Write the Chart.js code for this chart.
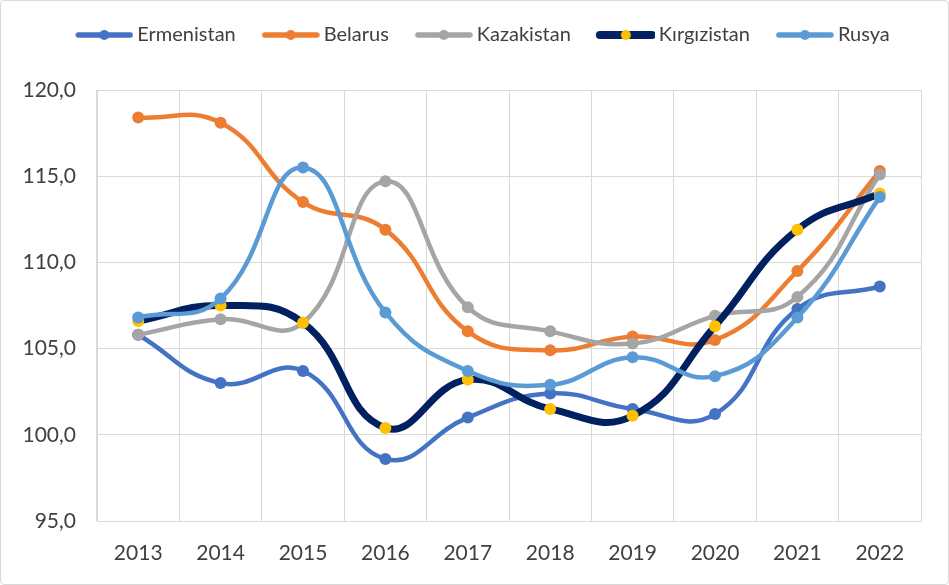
<!DOCTYPE html>
<html lang="tr">
  <head>
    <meta charset="UTF-8" />
    <title>Ülkeler</title>
    <script src="https://cdn.jsdelivr.net/npm/chart.js"></script>
    <style>
      html, body { margin: 0; padding: 0; background: #fff; }
      .box { position: absolute; left: 0; top: 0; width: 947px; height: 583px; border: 1px solid #d9d9d9; border-radius: 4px; }
      canvas { position: absolute; left: 0; top: 0; }
    </style>
  </head>
  <body>
    <div class="box"></div>
    <canvas id="chart" width="949" height="585"></canvas>

    <script>
      const years = ['2013', '2014', '2015', '2016', '2017', '2018', '2019', '2020', '2021', '2022'];

      const ermenistan = [105.8, 103.0, 103.7, 98.6, 101.0, 102.4, 101.5, 101.2, 107.3, 108.6];
      const belarus    = [118.4, 118.1, 113.5, 111.9, 106.0, 104.9, 105.7, 105.5, 109.5, 115.3];
      const kazakistan = [105.8, 106.7, 106.5, 114.7, 107.4, 106.0, 105.3, 106.9, 108.0, 115.1];
      const kirgizistan = [106.6, 107.5, 106.5, 100.4, 103.2, 101.5, 101.1, 106.3, 111.9, 114.0];
      const rusya      = [106.8, 107.9, 115.5, 107.1, 103.7, 102.9, 104.5, 103.4, 106.8, 113.8];

      const font = 'Lato, "Open Sans", sans-serif';
      const textColor = '#404040';
      const ICON_W = 70;   // legend box width given to chart.js

      // legend marker: line with a dot in the middle, sitting at the right of the box
      function legendIcon(lineColor, dotColor, lw) {
        const c = document.createElement('canvas');
        c.width = 82; c.height = 14;
        const g = c.getContext('2d');
        g.strokeStyle = lineColor;
        g.lineWidth = lw;
        g.lineCap = 'round';
        g.beginPath();
        g.moveTo(27, 7); g.lineTo(79, 7);
        g.stroke();
        g.fillStyle = dotColor;
        g.beginPath();
        g.arc(53, 7, 5, 0, Math.PI * 2);
        g.fill();
        return c;
      }

      function series(label, data, color, dot, width, order) {
        return {
          label: label,
          data: data,
          borderColor: color,
          backgroundColor: dot,
          pointBackgroundColor: dot,
          pointBorderColor: dot,
          pointRadius: 6,
          pointHoverRadius: 6,
          pointBorderWidth: 0,
          borderWidth: width,
          tension: 0.45,
          order: order,
          legendIcon: legendIcon(color, dot, width + 1)
        };
      }

      // fixed legend height, and nudge it a bit to the right
      const legendTweak = {
        id: 'legendTweak',
        beforeInit(chart) {
          const lg = chart.legend;
          const fit = lg.fit;
          lg.fit = function () {
            fit.call(this);
            this.height = 73;
          };
          const draw = lg.draw;
          lg.draw = function (...args) {
            this.ctx.save();
            this.ctx.translate(8, 0);
            draw.apply(this, args);
            this.ctx.restore();
          };
        }
      };

      const ctx = document.getElementById('chart').getContext('2d');
      new Chart(ctx, {
        type: 'line',
        data: {
          labels: years,
          datasets: [
            series('Ermenistan', ermenistan, '#4472c4', '#4472c4', 4.5, 4),
            series('Belarus', belarus, '#ed7d31', '#ed7d31', 4.5, 3),
            series('Kazakistan', kazakistan, '#a5a5a5', '#a5a5a5', 4.5, 2),
            series('Kırgızistan', kirgizistan, '#002060', '#ffc000', 7, 1),
            series('Rusya', rusya, '#5b9bd5', '#5b9bd5', 4.5, 0)
          ]
        },
        plugins: [legendTweak],
        options: {
          responsive: false,
          animation: false,
          layout: { padding: { left: 10, right: 28, top: 17, bottom: 10 } },
          plugins: {
            tooltip: { enabled: false },
            legend: {
              position: 'top',
              labels: {
                usePointStyle: true,
                pointStyleWidth: ICON_W,
                boxHeight: 14,
                padding: 8,
                color: textColor,
                font: { family: font, size: 20 },
                generateLabels(chart) {
                  return chart.data.datasets.map((ds, i) => ({
                    text: ds.label,
                    fillStyle: ds.borderColor,
                    strokeStyle: ds.borderColor,
                    lineWidth: 0,
                    pointStyle: ds.legendIcon,
                    hidden: false,
                    datasetIndex: i,
                    fontColor: textColor
                  }));
                }
              }
            }
          },
          scales: {
            x: {
              offset: true,
              grid: { color: '#d9d9d9', lineWidth: 1, drawTicks: false, offset: true },
              border: { color: '#d9d9d9' },
              ticks: { color: textColor, font: { family: font, size: 21 }, padding: 20, maxRotation: 0 },
              afterFit(scale) { scale.height = 54; }
            },
            y: {
              min: 95,
              max: 120,
              grid: { color: '#d9d9d9', lineWidth: 1, drawTicks: false },
              border: { color: '#d9d9d9' },
              ticks: {
                stepSize: 5,
                color: textColor,
                font: { family: font, size: 21 },
                padding: 21,
                callback: v => v.toFixed(1).replace('.', ',')
              },
              afterFit(scale) { scale.width = 87; }
            }
          }
        }
      });
    </script>
  </body>
</html>
